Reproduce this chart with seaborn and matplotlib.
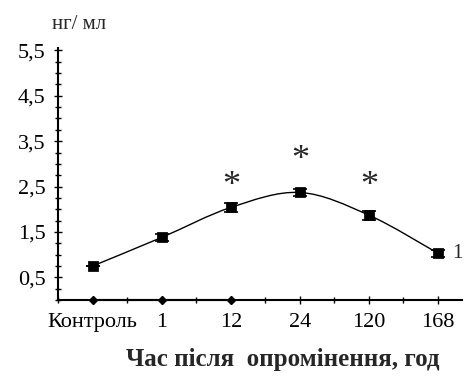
import matplotlib
matplotlib.use("Agg")
import matplotlib.pyplot as plt
from matplotlib.path import Path
from matplotlib.patches import PathPatch
from matplotlib.ticker import MultipleLocator, FuncFormatter
import seaborn as sns
import numpy as np
import pandas as pd

# Дані
categories = ["Контроль", "1", "12", "24", "120", "168"]
level = [0.75, 1.38, 2.04, 2.37, 1.87, 1.03]
level_err = [0.0, 0.08, 0.1, 0.07, 0.1, 0.08]
base_cats = ["Контроль", "1", "12"]
base_level = [0.0, 0.0, 0.0]
star_cats = ["12", "24", "120"]
star_y = [2.68, 3.25, 2.68]

sns.set_style("ticks")
plt.rcParams["font.family"] = ["Liberation Serif", "DejaVu Serif"]

df = pd.DataFrame({"x": range(len(categories)), "y": level, "err": level_err})
pos = {c: i for i, c in enumerate(categories)}

fig = plt.figure(figsize=(4.65, 3.76), dpi=100)
ax = fig.add_axes([0.125, 0.202, 0.869, 0.670])

# згладжена крива (Catmull-Rom -> Безьє)
pts = df[["x", "y"]].to_numpy(dtype=float)
ext = np.vstack([pts[0], pts, pts[-1]])
verts = [tuple(pts[0])]
codes = [Path.MOVETO]
for i in range(1, len(ext) - 2):
    p0, p1, p2, p3 = ext[i - 1], ext[i], ext[i + 1], ext[i + 2]
    verts += [tuple(p1 + (p2 - p0) / 6), tuple(p2 - (p3 - p1) / 6), tuple(p2)]
    codes += [Path.CURVE4] * 3
ax.add_patch(PathPatch(Path(verts, codes), fill=False, color="black", lw=1.0, zorder=2))

ax.errorbar(df["x"], df["y"], yerr=df["err"], fmt="none", ecolor="black",
            elinewidth=1.0, capsize=5, capthick=1.2, zorder=3)
sns.scatterplot(x="x", y="y", data=df, marker="s", s=45, color="black",
                edgecolor="black", ax=ax, zorder=4, legend=False)

# друга серія вздовж осі
bx = [pos[c] for c in base_cats]
ax.plot(bx, base_level, color="black", lw=1.5, marker="D", ms=4, clip_on=False, zorder=5)

for c, y in zip(star_cats, star_y):
    ax.annotate("*", (pos[c], y), xytext=(0, -6), textcoords="offset points",
                ha="center", va="center", fontsize=26)

ax.text(5.2, level[-1], "1", ha="left", va="center", fontsize=15)

ax.set_xlim(-0.5, 5.35)
ax.set_ylim(0, 5.55)
ax.set_xticks(range(len(categories)))
ax.set_xticklabels(categories)
ax.xaxis.set_minor_locator(MultipleLocator(0.5))
ax.set_yticks([0.5, 1.5, 2.5, 3.5, 4.5, 5.5])
ax.yaxis.set_major_formatter(FuncFormatter(lambda v, p: f"{v:.1f}".replace(".", ",")))
ax.yaxis.set_minor_locator(MultipleLocator(0.25))
ax.tick_params(axis="both", which="both", direction="inout", labelsize=16, width=1.0, colors="black")
ax.tick_params(axis="both", which="major", length=6)
ax.tick_params(axis="both", which="minor", length=4)
ax.tick_params(axis="x", pad=6)
ax.tick_params(axis="y", pad=6)
ax.set_xlabel("Час після  опромінення, год", fontsize=18, fontweight="bold")
ax.xaxis.set_label_coords(0.555, -0.19)
ax.set_ylabel("")
sns.despine(ax=ax)
for s in ["left", "bottom"]:
    ax.spines[s].set_linewidth(1.5)
    ax.spines[s].set_color("black")

fig.text(0.17, 0.936, "нг/ мл", ha="center", va="center", fontsize=15)

fig.savefig("out.png", dpi=100)
